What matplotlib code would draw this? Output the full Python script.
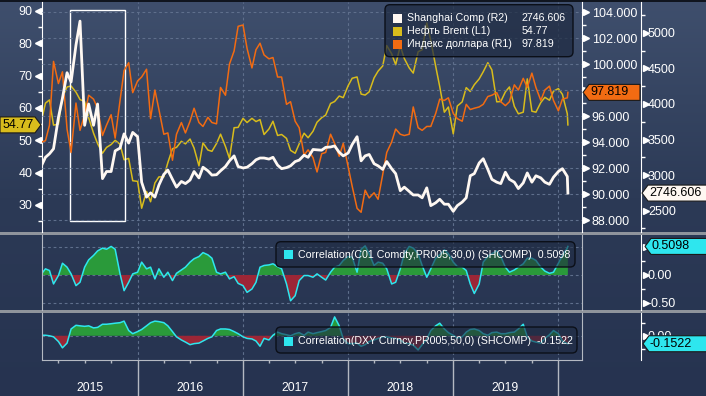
import numpy as np
import pandas as pd
import matplotlib
matplotlib.use('Agg')
import matplotlib.pyplot as plt
import matplotlib.dates as mdates
import matplotlib.transforms as mtransforms
from matplotlib.patches import Polygon, FancyBboxPatch, Rectangle
from matplotlib.colors import LinearSegmentedColormap, to_rgba
from matplotlib.ticker import FuncFormatter

plt.rcParams['font.family'] = ['Liberation Sans', 'DejaVu Sans']
plt.rcParams['axes.unicode_minus'] = False

W, H = 706, 396
TICK_FS = 9
LEG_FS = 7.7

# semi-monthly readings (1st and 15th), last point = 3 Feb 2020
dates = pd.date_range('2015-02-01', '2020-02-01', freq='SMS').append(pd.DatetimeIndex(['2020-02-03']))

shanghai = [
    3130, 3250, 3300, 3370, 3810, 4080, 4440, 4310, 4830, 5166, 3700, 4000, 3700, 4000, 2950, 3050, 3050, 3340, 3380, 3580, 3450, 3600,
    3540, 2900, 2690, 2750, 2690, 2860, 3010, 3070, 2940, 2830, 2910, 2880, 2930, 3050, 2960, 3110, 3060, 3000, 3005, 3060, 3120, 3200, 3270, 3120,
    3100, 3110, 3160, 3215, 3240, 3240, 3225, 3250, 3140, 3090, 3105, 3130, 3190, 3210, 3280, 3250, 3360, 3355, 3350, 3390, 3395, 3410, 3320, 3270,
    3310, 3430, 3540, 3200, 3270, 3290, 3160, 3130, 3080, 3190, 3090, 3020, 2780, 2830, 2770, 2720, 2720, 2680, 2820, 2570, 2610, 2660, 2590, 2590,
    2490, 2570, 2620, 2680, 2990, 3020, 3170, 3230, 3080, 2940, 2900, 2880, 3040, 2940, 2900, 2810, 2890, 3030, 2900, 2990, 2960, 2900, 2870, 2970,
    3050, 3090, 2980, 2746.606]

brent = [
    56.0, 61.5, 62.5, 54.7, 55.0, 63.3, 66.5, 66.8, 64.9, 62.6, 62.0, 57.0, 52.2, 49.0, 46.0, 47.8, 48.7, 50.0, 48.8, 44.0, 44.4, 37.5,
    37.3, 29.0, 34.2, 31.0, 36.8, 38.7, 38.7, 43.1, 47.4, 47.8, 49.7, 48.9, 50.4, 47.6, 42.1, 49.2, 47.0, 46.6, 49.0, 51.9, 48.1, 44.4, 53.9, 54.0,
    56.8, 55.5, 56.8, 55.8, 56.4, 51.8, 53.5, 55.9, 51.5, 51.8, 50.6, 46.9, 46.0, 48.9, 52.2, 50.8, 52.8, 55.6, 57.0, 57.8, 61.4, 62.0, 63.7, 63.2,
    66.9, 69.2, 69.6, 64.3, 64.0, 65.0, 69.3, 71.4, 73.0, 79.3, 76.8, 73.4, 79.2, 75.3, 72.4, 70.8, 77.4, 78.0, 86.3, 80.8, 72.9, 66.6, 58.7, 60.3,
    52.0, 60.6, 61.9, 66.3, 65.1, 67.2, 69.0, 71.2, 74.0, 71.8, 61.9, 62.0, 65.0, 66.5, 60.5, 58.2, 58.7, 69.0, 59.0, 58.7, 61.7, 63.3, 62.4, 65.2,
    66.0, 64.2, 58.2, 54.77]

dxy = [
    94.0, 94.1, 95.3, 100.2, 98.5, 99.4, 95.0, 93.2, 97.0, 94.9, 96.1, 97.6, 97.3, 96.6, 94.5, 95.3, 96.1, 94.3, 97.2, 99.5, 100.1, 97.8,
    98.7, 99.0, 99.6, 95.8, 98.0, 96.5, 94.6, 94.7, 92.6, 94.6, 95.5, 94.7, 95.6, 96.6, 95.5, 95.2, 95.9, 95.5, 95.4, 98.2, 97.6, 100.0, 101.0, 102.9,
    103.0, 101.2, 99.7, 101.1, 101.6, 100.7, 100.4, 100.5, 99.0, 99.0, 96.9, 97.1, 95.6, 95.1, 93.0, 93.4, 92.8, 91.7, 93.1, 93.2, 94.6, 93.9, 92.9, 93.9,
    92.1, 90.6, 88.9, 88.6, 90.3, 89.7, 90.1, 89.6, 91.5, 93.2, 94.0, 95.0, 94.6, 94.5, 94.6, 96.7, 95.1, 94.9, 95.2, 95.2, 96.2, 97.3, 97.2, 97.4,
    96.2, 95.8, 95.6, 96.9, 96.5, 96.6, 96.7, 96.9, 97.5, 97.6, 97.8, 97.1, 96.8, 97.1, 98.4, 98.0, 98.9, 98.2, 99.3, 98.2, 97.2, 98.0, 98.3, 97.2,
    96.4, 97.3, 97.4, 97.819]

corr_brent = [
    0.02, 0.11, 0.08, -0.16, -0.01, 0.21, 0.14, 0.02, -0.19, -0.13, 0.14, 0.27, 0.35, 0.43, 0.48, 0.46, 0.51, 0.46, 0.02, -0.28, -0.13, 0.02,
    0.05, 0.23, 0.11, 0.14, -0.07, 0.11, -0.04, 0.05, -0.10, 0.03, 0.09, 0.14, 0.23, 0.29, 0.33, 0.40, 0.36, 0.30, 0.05, 0.02, 0.05, -0.07, -0.03, -0.15,
    -0.19, -0.31, -0.25, -0.13, 0.14, 0.17, 0.18, 0.20, 0.15, 0.11, -0.16, -0.46, -0.37, -0.10, -0.01, -0.01, -0.04, 0.02, -0.04, -0.09, 0.05, 0.14, 0.17, 0.26,
    0.33, 0.32, 0.05, 0.46, 0.52, 0.38, 0.17, 0.23, 0.21, 0.11, -0.16, -0.13, 0.11, 0.38, 0.51, 0.48, 0.38, 0.17, -0.04, 0.11, 0.30, 0.36, 0.45, 0.38,
    0.23, 0.15, 0.14, 0.08, -0.16, -0.33, -0.16, 0.23, 0.33, 0.38, 0.43, 0.33, 0.14, 0.05, 0.09, 0.14, 0.20, 0.30, 0.30, 0.26, 0.14, 0.07, 0.03, 0.05,
    0.21, 0.35, 0.48, 0.5098]

corr_dxy = [
    0.01, 0.01, 0.00, -0.02, -0.11, -0.23, -0.14, 0.13, 0.20, 0.19, 0.18, 0.19, 0.15, 0.16, 0.22, 0.22, 0.23, 0.24, 0.25, 0.28, 0.10, 0.04,
    0.08, 0.12, 0.19, 0.25, 0.28, 0.27, 0.25, 0.19, 0.08, -0.02, -0.08, -0.12, -0.17, -0.15, -0.14, -0.10, -0.05, -0.02, 0.10, 0.13, 0.13, 0.12, 0.08, 0.04,
    -0.02, -0.05, -0.06, -0.10, -0.20, -0.05, -0.08, 0.01, 0.07, 0.04, 0.02, 0.00, 0.04, 0.06, 0.01, 0.07, 0.04, 0.06, 0.08, 0.10, 0.16, 0.36, 0.19, -0.06,
    -0.15, -0.15, -0.14, -0.20, -0.17, -0.11, -0.08, -0.05, -0.02, -0.02, -0.04, -0.05, -0.08, -0.14, -0.15, -0.18, -0.27, -0.17, -0.06, 0.10, 0.19, 0.24, 0.13, 0.06,
    0.01, -0.04, -0.02, 0.07, 0.12, 0.13, 0.10, 0.04, 0.01, 0.06, 0.07, 0.04, 0.04, 0.06, 0.07, 0.13, 0.22, -0.02, -0.10, -0.12, -0.14, -0.05, 0.02, 0.10,
    0.04, -0.10, -0.15, -0.1522]

years = ['2015', '2016', '2017', '2018', '2019']
highlight = ('2015-05-11', '2015-11-19', 25.0, 90.3)  # white box, left-axis units

YEL = '#d8bc1c'
ORG = '#f26b12'
WHT = '#fff8f2'
CYAN = '#2ee6ee'
GREEN = '#2a9a3a'
RED = '#9c2636'
GRID = '#5f6f8c'
LIGHT = '#b4b9c2'
DASH = (0, (2.5, 2.5))

x = mdates.date2num(dates.values)
x_left = mdates.date2num(np.datetime64('2015-02-03'))
x_right = mdates.date2num(np.datetime64('2020-03-23'))
year_starts = [mdates.date2num(np.datetime64('%d-01-01' % y)) for y in range(2016, 2021)]


def fig_box(x0, y0, x1, y1):
    return [x0 / W, 1 - y1 / H, (x1 - x0) / W, (y1 - y0) / H]


def hide_spines(a):
    for s in a.spines.values():
        s.set_visible(False)


def tri_ticks(a, vals, xpos, marker):
    tr = mtransforms.blended_transform_factory(a.transAxes, a.transData)
    a.plot([xpos] * len(vals), vals, ls='none', marker=marker, ms=4.5, color='white',
           transform=tr, clip_on=False, zorder=6)


def fmt_hiding(fmt, hidden):
    # labels that sit under a last-value tag are left blank
    return FuncFormatter(lambda v, pos: '' if any(abs(v - h) < 1e-9 for h in hidden) else fmt % v)


fig = plt.figure(figsize=(W / 100, H / 100), dpi=100)

# background gradient + separators
bg = fig.add_axes([0, 0, 1, 1], zorder=-10)
cmap = LinearSegmentedColormap.from_list('bg', ['#263350', '#2c3a56', '#3f4f6d'])
bg.imshow(np.linspace(0, 1, 256)[:, None], cmap=cmap, origin='lower', aspect='auto', extent=[0, 1, 0, 1])
bg.set_xlim(0, 1)
bg.set_ylim(0, 1)
bg.axis('off')
for y0, y1 in [(231.5, 235), (310, 313.3)]:
    bg.add_patch(Rectangle((0, 1 - y1 / H), 1, (y1 - y0) / H, color='#8f949c', lw=0))
bg.add_patch(Rectangle((0, 1 - 1.5 / H), 1, 1.5 / H, color='#10151f', lw=0))

# ---- main panel
ax = fig.add_axes(fig_box(42, 2, 582, 231.5))
ax.set_facecolor('none')
ax_r1 = ax.twinx()
ax_r2 = ax.twinx()
for a in (ax, ax_r1, ax_r2):
    hide_spines(a)
    a.set_xlim(x_left, x_right)
    a.tick_params(axis='x', which='both', bottom=False, labelbottom=False)

for xs in year_starts:
    ax.axvline(xs, color=GRID, ls=DASH, lw=0.8, zorder=0)

ax.plot(x, brent, color=YEL, lw=1.1)
ax_r1.plot(x, dxy, color=ORG, lw=1.1)
ax_r2.plot(x, shanghai, color=WHT, lw=2.0)

bx0 = mdates.date2num(np.datetime64(highlight[0]))
bx1 = mdates.date2num(np.datetime64(highlight[1]))
ax.add_patch(Rectangle((bx0, highlight[2]), bx1 - bx0, highlight[3] - highlight[2],
                       fill=False, ec='white', lw=1.0, zorder=5))

ax.set_ylim(21.8, 92.78)
ax_r1.set_ylim(87.12, 104.77)
ax_r2.set_ylim(2206, 5435)

# left axis (L1)
ax.spines['left'].set_visible(True)
ax.spines['left'].set_color('white')
ax.set_yticks(np.arange(30, 91, 10))
ax.set_yticks(np.arange(25, 90, 10), minor=True)
ax.tick_params(axis='y', which='major', length=0, pad=7, labelsize=TICK_FS, labelcolor='white')
ax.tick_params(axis='y', which='minor', length=3, width=1, color='white')
tri_ticks(ax, np.arange(30, 91, 10), -0.0083, '<')

# R1
ax_r1.spines['right'].set_visible(True)
ax_r1.spines['right'].set_color('white')
ax_r1.set_yticks(np.arange(88, 105, 2))
ax_r1.set_yticks(np.arange(89, 104, 2), minor=True)
ax_r1.yaxis.set_major_formatter(fmt_hiding('%.3f', [98]))
ax_r1.tick_params(axis='y', which='major', length=0, pad=7, labelsize=TICK_FS, labelcolor='white')
ax_r1.tick_params(axis='y', which='minor', length=3, width=1, color='white')
ax_r1.grid(axis='y', which='major', color=GRID, ls=DASH, lw=0.8)
tri_ticks(ax_r1, np.arange(88, 105, 2), 1.0074, '>')

# R2
ax_r2.spines['right'].set_visible(True)
ax_r2.spines['right'].set_color('white')
ax_r2.spines['right'].set_position(('axes', 1.1093))
ax_r2.set_yticks(np.arange(2500, 5001, 500))
ax_r2.set_yticks(np.arange(2250, 5300, 500), minor=True)
ax_r2.tick_params(axis='y', which='major', length=0, pad=5, labelsize=TICK_FS, labelcolor='white')
ax_r2.tick_params(axis='y', which='minor', length=3, width=1, color='white')
tri_ticks(ax_r2, np.arange(2500, 5001, 500), 1.1185, '>')


# ---- correlation panels
def corr_panel(box, vals, ylim, majors, minors, hidden):
    p = fig.add_axes(fig_box(*box))
    p.set_facecolor('none')
    hide_spines(p)
    v = np.array(vals)
    p.fill_between(x, v, 0, where=v >= 0, interpolate=True, color=GREEN, lw=0)
    p.fill_between(x, v, 0, where=v <= 0, interpolate=True, color=RED, lw=0)
    p.plot(x, v, color=CYAN, lw=1.1)
    for xs in year_starts:
        p.axvline(xs, color=GRID, ls=DASH, lw=0.8, zorder=0)
    for g in majors:
        p.axhline(g, color=GRID, ls=DASH, lw=0.8, zorder=0.5)
    p.set_xlim(x_left, x_right)
    p.set_ylim(*ylim)
    p.spines['left'].set_visible(True)
    p.spines['left'].set_color(LIGHT)
    p.spines['left'].set_linewidth(0.8)
    p.plot([1, 1], [0, 1], transform=p.transAxes, color=LIGHT, lw=0.8, clip_on=False)
    p.yaxis.tick_right()
    p.spines['right'].set_visible(True)
    p.spines['right'].set_color('white')
    p.spines['right'].set_position(('axes', 1.1093))
    p.set_yticks(majors)
    p.set_yticks(minors, minor=True)
    p.yaxis.set_major_formatter(fmt_hiding('%.2f', hidden))
    p.tick_params(axis='y', which='major', length=0, pad=5, labelsize=TICK_FS, labelcolor='white')
    p.tick_params(axis='y', which='minor', length=3, width=1, color='white')
    tri_ticks(p, majors, 1.1185, '>')
    return p


p2 = corr_panel((42, 235, 582, 310), corr_brent, (-0.625, 0.714), [-0.5, 0.0, 0.5], [-0.25, 0.25], [0.5])
p2.tick_params(axis='x', which='both', bottom=False, labelbottom=False)

p3 = corr_panel((42, 313.3, 582, 360), corr_dxy, (-0.4625, 0.429), [0.0], [-0.25, 0.25], [])
p3.spines['bottom'].set_visible(True)
p3.spines['bottom'].set_color(LIGHT)
p3.spines['bottom'].set_linewidth(0.8)
p3.xaxis.set_major_locator(mdates.YearLocator())
p3.xaxis.set_minor_locator(mdates.MonthLocator(bymonth=[4, 7, 10]))
p3.tick_params(axis='x', which='major', length=26, width=1, color=LIGHT, labelbottom=False)
p3.tick_params(axis='x', which='minor', length=2.5, width=1, color=LIGHT)

tr_year = mtransforms.blended_transform_factory(p3.transData, p3.transAxes)
centers = [(x_left + year_starts[0]) / 2] + [mdates.date2num(np.datetime64('%s-07-01' % y)) for y in years[1:]]
for lab, xc in zip(years, centers):
    p3.text(xc, -0.6, lab, transform=tr_year, ha='center', va='center', color='white', fontsize=8.7)


# ---- legends
def legend_box(x0, y0, x1, y1, alpha):
    fig.add_artist(FancyBboxPatch((x0 / W, 1 - y1 / H), (x1 - x0) / W, (y1 - y0) / H,
                                  boxstyle='round,pad=0,rounding_size=0.007', mutation_aspect=W / H,
                                  transform=fig.transFigure, fc=to_rgba('#1f2b42', alpha),
                                  ec='#0b0f18', lw=1.0, zorder=12))


def legend_row(xs, yc, color, label, value=None, xv=None):
    fig.add_artist(Rectangle((xs / W, 1 - (yc + 4.5) / H), 9 / W, 9 / H, transform=fig.transFigure,
                             fc=color, ec='none', zorder=13))
    fig.text((xs + 14) / W, 1 - yc / H, label, color='white', fontsize=LEG_FS, va='center', ha='left', zorder=14)
    if value is not None:
        fig.text(xv / W, 1 - yc / H, value, color='white', fontsize=LEG_FS, va='center', ha='left', zorder=14)


legend_box(385, 4.7, 573, 56.7, 0.72)
legend_row(393, 18, WHT, 'Shanghai Comp (R2)', '%.3f' % shanghai[-1], 522)
legend_row(393, 31, YEL, 'Нефть Brent (L1)', '%.2f' % brent[-1], 522)
legend_row(393, 44, ORG, 'Индекс доллара (R1)', '%.3f' % dxy[-1], 522)

legend_box(276, 241.7, 575, 267, 0.6)
legend_row(284, 254.5, CYAN, 'Correlation(C01 Comdty,PR005,30,0) (SHCOMP)  %.4f' % corr_brent[-1])
legend_box(276, 327, 577, 353, 0.6)
legend_row(284, 341, CYAN, 'Correlation(DXY Curncy,PR005,50,0) (SHCOMP)  %.4f' % corr_dxy[-1])


# ---- last-value tags
def tag(a, val, x0, x1, color, txt, point='left'):
    yd = a.transData.transform((a.get_xlim()[0], val))[1]
    h = 8
    if point == 'left':
        pts = [(x0, yd), (x0 + 6, yd + h), (x1, yd + h), (x1, yd - h), (x0 + 6, yd - h)]
        tx = x0 + 7
    else:
        pts = [(x0, yd + h), (x1 - 6, yd + h), (x1, yd), (x1 - 6, yd - h), (x0, yd - h)]
        tx = x0 + 3
    fig.add_artist(Polygon(pts, closed=True, transform=mtransforms.IdentityTransform(),
                           fc=color, ec='#1a1a1a', lw=0.8, zorder=20))
    fig.text(tx / W, yd / H, txt, color='black', fontsize=TICK_FS, ha='left', va='center', zorder=21)


tag(ax, brent[-1], 0, 41, YEL, '%.2f' % brent[-1], point='right')
tag(ax_r1, dxy[-1], 583, 640, ORG, '%.3f' % dxy[-1])
tag(ax_r2, shanghai[-1], 642, 707, WHT, '%.3f' % shanghai[-1])
tag(p2, corr_brent[-1], 645, 707, CYAN, '%.4f' % corr_brent[-1])
tag(p3, corr_dxy[-1], 643, 707, CYAN, '%.4f' % corr_dxy[-1])

fig.savefig('out.png', dpi=100)
